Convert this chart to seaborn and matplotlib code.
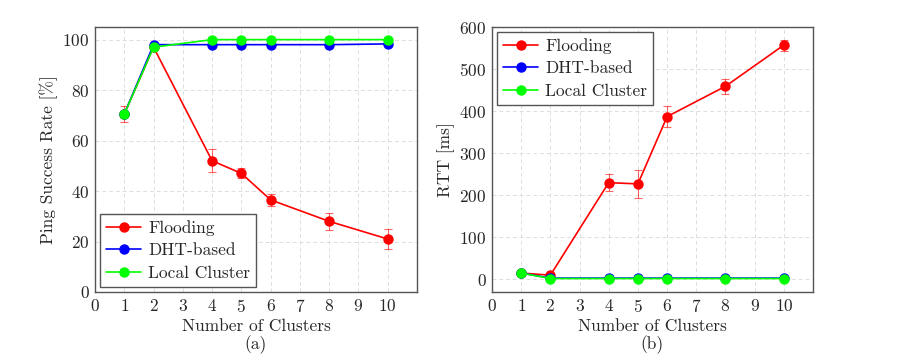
import pandas as pd
import seaborn as sns
import matplotlib.pyplot as plt

clusters = [1, 2, 4, 5, 6, 8, 10]
series_names = ["Flooding", "DHT-based", "Local Cluster"]

# ping success rate [%]
ping_flooding = [70.5, 97.0, 52.0, 47.0, 36.5, 28.0, 21.0]
ping_flooding_err = [3.0, 0.8, 4.5, 2.0, 2.5, 3.5, 4.0]
ping_dht = [70.5, 98.0, 98.0, 98.0, 98.0, 98.0, 98.3]
ping_local = [70.5, 97.0, 100.0, 100.0, 100.0, 100.0, 100.0]

# round trip time [ms]
rtt_flooding = [15.0, 10.0, 230.0, 227.0, 387.0, 459.0, 557.0]
rtt_flooding_err = [3.0, 3.0, 20.0, 33.0, 25.0, 18.0, 13.0]
rtt_dht = [15.0, 3.0, 3.0, 3.0, 3.0, 3.0, 3.0]
rtt_local = [15.0, 2.0, 2.0, 2.0, 2.0, 2.0, 2.0]

colors = {"Flooding": "#ff0000", "DHT-based": "#0000ff", "Local Cluster": "#00ff00"}

sns.set_style("white")
plt.rcParams['font.family'] = ['cmr10', 'DejaVu Serif']
plt.rcParams['mathtext.fontset'] = 'cm'
plt.rcParams['axes.formatter.use_mathtext'] = True


def make_df(a, b, c):
    rows = []
    for name, vals in zip(series_names, [a, b, c]):
        for x, y in zip(clusters, vals):
            rows.append({"clusters": x, "value": y, "series": name})
    return pd.DataFrame(rows)


def draw(ax, df, err, ylim, yticks, ylabel, loc, tag):
    ax.errorbar(clusters, df[df.series == "Flooding"]["value"], yerr=err,
                fmt='none', ecolor='#ff0000', alpha=0.6, capsize=3, elinewidth=0.8,
                capthick=0.8, zorder=2)
    sns.lineplot(data=df, x="clusters", y="value", hue="series", palette=colors,
                 marker='o', markersize=7.5, markeredgewidth=0, linewidth=1.2,
                 ax=ax, zorder=3)
    ax.set_xlim(0, 11)
    ax.set_xticks(range(0, 11))
    ax.set_ylim(*ylim)
    ax.set_yticks(yticks)
    ax.grid(True, linestyle=(0, (4, 3)), color='#dddddd', linewidth=0.7)
    for s in ax.spines.values():
        s.set_color('#555555')
        s.set_linewidth(1.0)
    ax.tick_params(direction='in', length=3, width=0.6, color='#999999',
                   labelsize=12.5, pad=4)
    ax.set_xlabel("Number of Clusters", fontsize=12.5, labelpad=3)
    ax.set_ylabel(ylabel, fontsize=12.5, labelpad=3)
    leg = ax.legend(loc=loc, fontsize=12.5, frameon=True, fancybox=False,
                    edgecolor='#555555', framealpha=1, borderaxespad=0.3,
                    handlelength=2.0, handletextpad=0.4, borderpad=0.35,
                    labelspacing=0.4)
    leg.get_frame().set_linewidth(1.0)
    ax.text(0.5, -0.165, tag, transform=ax.transAxes, ha='center', va='top',
            fontsize=12.5)


fig = plt.figure(figsize=(8.99, 3.58), dpi=100)
ax1 = fig.add_axes([95 / 899, 1 - 292 / 358, 322 / 899, 265 / 358])
ax2 = fig.add_axes([492 / 899, 1 - 292 / 358, 321 / 899, 265 / 358])

draw(ax1, make_df(ping_flooding, ping_dht, ping_local), ping_flooding_err,
     (0, 105), range(0, 101, 20), "Ping Success Rate [%]", "lower left", "(a)")
draw(ax2, make_df(rtt_flooding, rtt_dht, rtt_local), rtt_flooding_err,
     (-30, 600), range(0, 601, 100), "RTT [ms]", "upper left", "(b)")

fig.savefig("out.png", dpi=100)
